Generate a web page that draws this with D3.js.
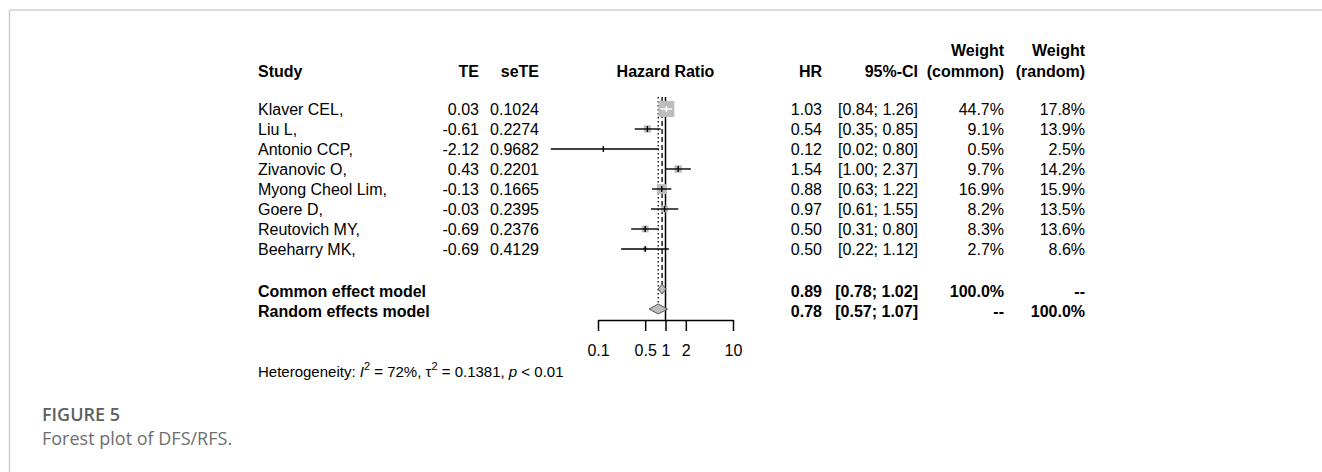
<!DOCTYPE html>
<html>
<head>
<meta charset="utf-8">
<script src="https://cdn.jsdelivr.net/npm/d3@7"></script>
<style>
  html, body { margin: 0; padding: 0; background: #fff; }
  svg { display: block; }
  text { font-family: "Liberation Sans", Arial, sans-serif; fill: #000; }
  .cap { font-family: "Open Sans", sans-serif; }
</style>
</head>
<body>
<svg id="chart" width="1322" height="472"></svg>
<script>
// ---- data ----
const studies = ["Klaver CEL,", "Liu L,", "Antonio CCP,", "Zivanovic O,", "Myong Cheol Lim,", "Goere D,", "Reutovich MY,", "Beeharry MK,"];
const teLabels = ["0.03", "-0.61", "-2.12", "0.43", "-0.13", "-0.03", "-0.69", "-0.69"];
const seLabels = ["0.1024", "0.2274", "0.9682", "0.2201", "0.1665", "0.2395", "0.2376", "0.4129"];
const hr = [1.03, 0.54, 0.12, 1.54, 0.88, 0.97, 0.50, 0.50];
const lower = [0.84, 0.35, 0.02, 1.00, 0.63, 0.61, 0.31, 0.22];
const upper = [1.26, 0.85, 0.80, 2.37, 1.22, 1.55, 0.80, 1.12];
const wCommon = [44.7, 9.1, 0.5, 9.7, 16.9, 8.2, 8.3, 2.7];
const wRandom = [17.8, 13.9, 2.5, 14.2, 15.9, 13.5, 13.6, 8.6];
const pooledNames = ["Common effect model", "Random effects model"];
const pooledHR = [0.89, 0.78];
const pooledLower = [0.78, 0.57];
const pooledUpper = [1.02, 1.07];
const pooledWCommon = ["100.0%", "--"];
const pooledWRandom = ["--", "100.0%"];
const tickValues = [0.1, 0.5, 1, 2, 10];
const tickLabels = ["0.1", "0.5", "1", "2", "10"];

// ---- layout ----
const svg = d3.select("#chart");
const x = d3.scaleLog().domain([0.1, 10]).range([598, 733]);
const row = d3.scaleLinear().domain([0, 1]).range([109, 129]);
const pooledRow = [9, 10];
const fs = 16;
const fmt2 = d3.format(".2f");
const xTE = 479, xSE = 539;

// frame
svg.append("line").attr("x1", 9.5).attr("x2", 1322).attr("y1", 10).attr("y2", 10)
  .attr("stroke", "#cfcfcf").attr("stroke-width", 1.5);
svg.append("line").attr("x1", 9.5).attr("x2", 9.5).attr("y1", 10).attr("y2", 472)
  .attr("stroke", "#cfcfcf").attr("stroke-width", 1.5);

// headers
const hdr = svg.append("g").attr("font-weight", "bold").attr("font-size", fs);
const hy = 77, hy2 = 56;
hdr.append("text").attr("x", 258).attr("y", hy).text("Study");
hdr.append("text").attr("x", xTE).attr("y", hy).attr("text-anchor", "end").text("TE");
hdr.append("text").attr("x", xSE).attr("y", hy).attr("text-anchor", "end").text("seTE");
hdr.append("text").attr("x", x(1)).attr("y", hy).attr("text-anchor", "middle").text("Hazard Ratio");
hdr.append("text").attr("x", 822).attr("y", hy).attr("text-anchor", "end").text("HR");
hdr.append("text").attr("x", 918).attr("y", hy).attr("text-anchor", "end").text("95%-CI");
hdr.append("text").attr("x", 1004).attr("y", hy2).attr("text-anchor", "end").text("Weight");
hdr.append("text").attr("x", 1004).attr("y", hy).attr("text-anchor", "end").text("(common)");
hdr.append("text").attr("x", 1085).attr("y", hy2).attr("text-anchor", "end").text("Weight");
hdr.append("text").attr("x", 1085).attr("y", hy).attr("text-anchor", "end").text("(random)");

// study rows text
const body = svg.append("g").attr("font-size", fs);
studies.forEach((s, i) => {
  const y = row(i) + 6;
  body.append("text").attr("x", 258).attr("y", y).text(s);
  body.append("text").attr("x", xTE).attr("y", y).attr("text-anchor", "end").text(teLabels[i]);
  body.append("text").attr("x", xSE).attr("y", y).attr("text-anchor", "end").text(seLabels[i]);
  body.append("text").attr("x", 822).attr("y", y).attr("text-anchor", "end").text(fmt2(hr[i]));
  body.append("text").attr("x", 918).attr("y", y).attr("text-anchor", "end")
    .text("[" + fmt2(lower[i]) + "; " + fmt2(upper[i]) + "]");
  body.append("text").attr("x", 1004).attr("y", y).attr("text-anchor", "end").text(wCommon[i].toFixed(1) + "%");
  body.append("text").attr("x", 1085).attr("y", y).attr("text-anchor", "end").text(wRandom[i].toFixed(1) + "%");
});

// pooled rows text
const pb = svg.append("g").attr("font-size", fs).attr("font-weight", "bold");
pooledNames.forEach((s, k) => {
  const y = row(pooledRow[k]) + 8;
  pb.append("text").attr("x", 258).attr("y", y).text(s);
  pb.append("text").attr("x", 822).attr("y", y).attr("text-anchor", "end").text(fmt2(pooledHR[k]));
  pb.append("text").attr("x", 918).attr("y", y).attr("text-anchor", "end")
    .text("[" + fmt2(pooledLower[k]) + "; " + fmt2(pooledUpper[k]) + "]");
  pb.append("text").attr("x", 1004).attr("y", y).attr("text-anchor", "end").text(pooledWCommon[k]);
  pb.append("text").attr("x", 1085).attr("y", y).attr("text-anchor", "end").text(pooledWRandom[k]);
});

// reference lines
const plot = svg.append("g");
plot.append("line").attr("x1", x(1)).attr("x2", x(1)).attr("y1", 97).attr("y2", 320)
  .attr("stroke", "#000").attr("stroke-width", 1.5);
plot.append("line").attr("x1", x(pooledHR[0])).attr("x2", x(pooledHR[0]))
  .attr("y1", 97).attr("y2", row(pooledRow[0]) - 5)
  .attr("stroke", "#000").attr("stroke-width", 1.3).attr("stroke-dasharray", "5,3");
plot.append("line").attr("x1", x(pooledHR[1])).attr("x2", x(pooledHR[1]))
  .attr("y1", 97).attr("y2", row(pooledRow[1]) - 5)
  .attr("stroke", "#000").attr("stroke-width", 1.3).attr("stroke-dasharray", "1.5,2.5");

// squares and CIs
const sqScale = d3.scaleSqrt().domain([0, d3.max(wCommon)]).range([0, 16]);
studies.forEach((s, i) => {
  const y = row(i);
  const side = sqScale(wCommon[i]);
  const cx = x(hr[i]);
  plot.append("rect").attr("x", cx - side / 2).attr("y", y - side / 2)
    .attr("width", side).attr("height", side).attr("fill", "#bdbdbd");
  const inside = x(lower[i]) >= cx - side / 2 && x(upper[i]) <= cx + side / 2;
  const col = inside ? "#fff" : "#000";
  plot.append("line").attr("x1", x(lower[i])).attr("x2", x(upper[i])).attr("y1", y).attr("y2", y)
    .attr("stroke", col).attr("stroke-width", 1.4);
  plot.append("line").attr("x1", cx).attr("x2", cx).attr("y1", y - 3).attr("y2", y + 3)
    .attr("stroke", col).attr("stroke-width", 1.4);
});

// diamonds
pooledHR.forEach((v, k) => {
  const y = row(pooledRow[k]);
  const h = 5;
  const pts = [[x(pooledLower[k]), y], [x(v), y - h], [x(pooledUpper[k]), y], [x(v), y + h]];
  plot.append("polygon").attr("points", pts.map(p => p.join(",")).join(" "))
    .attr("fill", "#bdbdbd").attr("stroke", "#555").attr("stroke-width", 1);
});

// axis
const axis = d3.axisBottom(x).tickValues(tickValues)
  .tickFormat((d, i) => tickLabels[i]).tickSize(11).tickPadding(14).tickSizeOuter(0);
const ag = svg.append("g").attr("transform", "translate(0,320)").call(axis);
ag.select(".domain").attr("stroke", "#000").attr("stroke-width", 1.5);
ag.selectAll(".tick line").attr("stroke", "#000").attr("stroke-width", 1.5);
ag.selectAll(".tick text").attr("font-size", fs).attr("font-family", "Liberation Sans, Arial, sans-serif").attr("fill", "#000");

// heterogeneity
const het = svg.append("text").attr("x", 258).attr("y", 377).attr("font-size", 15);
het.append("tspan").text("Heterogeneity: ");
het.append("tspan").attr("font-style", "italic").text("I");
het.append("tspan").attr("font-size", 11).attr("dy", -7).text("2");
het.append("tspan").attr("dy", 7).text(" = 72%, \u03c4");
het.append("tspan").attr("font-size", 11).attr("dy", -7).text("2");
het.append("tspan").attr("dy", 7).text(" = 0.1381, ");
het.append("tspan").attr("font-style", "italic").text("p");
het.append("tspan").text(" < 0.01");

// caption
svg.append("text").attr("class", "cap").attr("x", 42).attr("y", 421)
  .attr("font-size", 18).attr("font-weight", 600).style("fill", "#5f5f5f").text("FIGURE 5");
svg.append("text").attr("class", "cap").attr("x", 42).attr("y", 445)
  .attr("font-size", 18).style("fill", "#6e6e6e").text("Forest plot of DFS/RFS.");
</script>
</body>
</html>
